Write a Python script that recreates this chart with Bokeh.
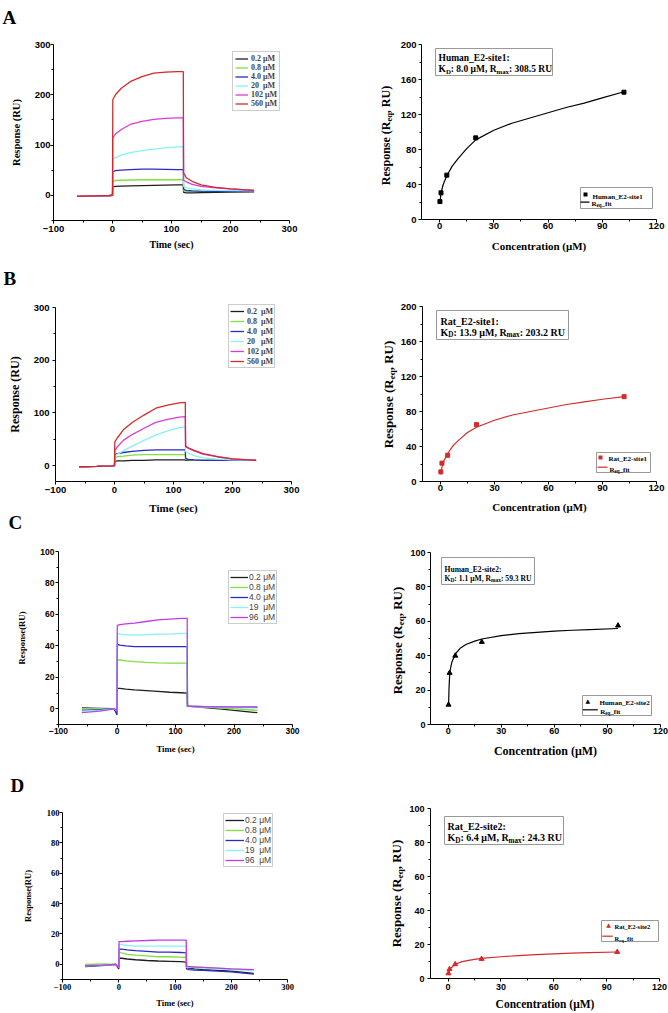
import math
from bokeh.plotting import figure
from bokeh.models import (Range1d, FixedTicker, Label, BoxAnnotation, Legend, LegendItem,
                          LinearAxis)
from bokeh.embed import file_html
from bokeh.resources import INLINE
from bokeh.core.properties import value

# ---------------- data ----------------
TIME = [-60, -30, -5, 0, 0.5, 5, 15, 30, 50, 70, 90, 110, 120, 120.5, 125, 135, 150, 175, 200, 240]

LABELS_A = ["0.2 μM", "0.8 μM", "4.0 μM", "20  μM", "102 μM", "560 μM"]
A_02 = [-2, -1, -0.3, 0, 17, 18, 18.5, 19, 19.5, 20, 20.5, 21, 21, 6, 5, 5, 5.5, 6, 6.5, 7]
A_08 = [-2, -1, -0.3, 0, 28, 29.5, 30, 30.5, 31, 31, 31, 31, 31, 9, 8, 8, 8, 8, 8, 8]
A_40 = [-2, -1, -0.3, 0, 47, 49, 50, 51, 52, 52, 51.5, 51, 51, 12, 10, 9, 8.5, 8, 8, 8]
A_20 = [-2, -1, -0.3, 0, 72, 75, 80, 85, 89, 92, 94.5, 96.5, 97, 18, 15, 13, 11, 10, 9.5, 9]
A_102 = [-2, -1, -0.3, 0, 114, 122, 131, 141, 147, 151, 153, 154, 154, 30, 27, 22, 18, 15, 13, 10]
A_560 = [-2, -1, -0.3, 0, 190, 200, 213, 226, 236, 243, 245, 246, 246, 45, 35, 28, 21, 16, 13, 10]

LABELS_B = ["0.2  μM", "0.8  μM", "4.0  μM", "20   μM", "102 μM", "560 μM"]
B_02 = [-2, -1.5, -0.5, 0, 8, 9, 9, 10, 10, 11, 11, 11, 11, 10, 10, 10, 10, 10, 10, 10]
B_08 = [-2, -1.5, -0.5, 0, 15, 17, 18, 20, 21, 21, 21, 21, 21, 12, 11, 10.5, 10, 10, 10, 10]
B_40 = [-2, -1.5, -0.5, 0, 21, 23, 25, 27, 29, 30, 30, 30, 30, 14, 12, 11, 10, 10, 10, 10]
B_20 = [-2, -1.5, -0.5, 0, 18, 22, 28, 37, 48, 58, 66, 72, 74, 27, 24, 19, 15, 12.5, 11, 10]
B_102 = [-2, -1.5, -0.5, 0, 28, 36, 48, 59, 71, 82, 88, 92, 93, 36, 33, 28, 22, 16.5, 13, 10]
B_560 = [-2, -1.5, -0.5, 0, 45, 53, 68, 82, 96, 109, 115, 119, 120, 37, 34, 29, 23, 17, 13, 10]

LABELS_CD = ["0.2 μM", "0.8 μM", "4.0 μM", "19  μM", "96  μM"]
C_02 = [0.5, 0.3, 0, -1, 13, 13, 12.5, 12, 11.5, 11, 10.5, 10.2, 10, 1.5, 1.5, 1.2, 0.8, 0, -1, -2.5]
C_08 = [0, 0, 0, -1, 31, 31, 30.5, 30, 29.5, 29.2, 29, 29, 29, 1.5, 1.5, 1.3, 1, 0.5, 0, -1]
C_40 = [-1, -0.5, 0, -4, 41, 40.5, 40, 39.5, 39.5, 39.5, 39.5, 39.5, 39.5, 1.5, 1.5, 1.5, 1.4, 1.2, 1, 1]
C_19 = [-1.5, -1, 0, -1, 48, 47.5, 47, 47, 47, 47.5, 47.5, 48, 48, 1.5, 1.5, 1.4, 1.3, 1, 0.8, 0.5]
C_96 = [-2.5, -1.5, 0, -1, 53, 53.5, 54, 54.5, 55.5, 56.5, 57, 57.5, 57.5, 1.5, 1.5, 1.5, 1.4, 1.2, 1, 1]

D_02 = [-1, -0.5, 0, -3, 4, 4, 3.5, 3, 2.5, 2.2, 2, 1.8, 1.5, -2, -2.5, -3, -3.5, -4, -4.5, -6]
D_08 = [0, 0.2, 0, -2, 8, 7.5, 6.5, 6, 5.5, 5, 5, 4.8, 4.5, -1.5, -1.5, -1.5, -2, -2.5, -3, -4]
D_40 = [-1.5, -0.8, 0, -2, 10, 10, 9.5, 9, 8.5, 8, 8, 7.8, 7.5, -3, -3.5, -3.8, -4, -4.5, -5, -6.5]
D_19 = [-1, -0.5, 0, -2, 13, 13, 12.5, 12, 12, 12, 12, 12, 12, -2, -2, -2.2, -2.5, -3, -3.5, -4]
D_96 = [-1, -0.5, 0, -2, 15, 15, 15.2, 15.5, 15.7, 16, 16, 16, 16, -1.5, -1.5, -1.8, -2, -2.5, -3, -3.5]

CONC_1 = [0.2, 0.8, 4.0, 20, 102]
REQ_HUMAN_1 = [20.5, 30.5, 50.7, 93.3, 145.5]
REQ_RAT_1 = [11, 21, 30, 65, 97]
FIT_X1 = [0.2, 0.5, 1, 2, 4, 7, 10, 15, 20, 30, 40, 50, 60, 70, 80, 90, 102]
FIT_HUMAN_1 = [18, 25, 32, 40, 50, 61, 69, 81, 91, 102, 110, 116, 122, 128, 133, 139, 146]
FIT_RAT_1 = [8, 13, 18, 24, 32, 41, 47, 56, 62, 70, 76, 80, 84, 88, 91, 94, 97]

CONC_2 = [0.2, 0.8, 4.0, 19, 96]
REQ_HUMAN_2 = [11.5, 30, 40, 48, 57.5]
REQ_RAT_2 = [3, 5.5, 8.4, 11.5, 15.6]
FIT_X2 = [0.2, 0.5, 0.8, 1, 2, 4, 7, 10, 15, 19, 30, 40, 50, 60, 70, 80, 96]
FIT_HUMAN_2 = [11.5, 22, 28, 31, 36, 41, 44.5, 46.5, 48.5, 49.7, 51.7, 52.8, 53.6, 54.3, 54.8, 55.2, 55.8]
FIT_RAT_2 = [2.5, 3.8, 4.8, 5.3, 6.5, 8.3, 9.6, 10.4, 11.2, 11.8, 12.8, 13.5, 14, 14.5, 14.9, 15.2, 15.6]

X_TICKS_T = [-100, 0, 100, 200, 300]
X_MINOR_T = [-50, 50, 150, 250]
X_TICKS_C = [0, 30, 60, 90, 120]
X_MINOR_C = [15, 45, 75, 105]
Y300 = [0, 100, 200, 300]
Y100 = [0, 20, 40, 60, 80, 100]
Y100m = [-10, 10, 30, 50, 70, 90]
Y200 = [0, 40, 80, 120, 160, 200]
Y200m = [20, 60, 100, 140, 180]

# ---------------- style ----------------
SERIF = "Liberation Serif"
SANS = "Liberation Sans"
BLACK = "#1e1e1e"
GREEN = "#7fe040"
BLUE = "#2a2ac4"
CYAN = "#86f2f2"
MAGENTA = "#d83cd8"
PURPLE = "#c03ce8"
RED = "#d42a2a"
W, H = 668, 1012

TB = {' ': 250, '!': 333, '(': 333, ')': 333, ',': 250, '-': 333, '.': 250, ':': 333, '_': 500,
      'A': 722, 'B': 667, 'C': 722, 'D': 722, 'E': 667, 'F': 611, 'G': 778, 'H': 778, 'I': 389,
      'J': 500, 'K': 778, 'L': 667, 'M': 944, 'N': 722, 'O': 778, 'P': 611, 'Q': 778, 'R': 722,
      'S': 556, 'T': 667, 'U': 722, 'V': 722, 'W': 1000, 'X': 722, 'Y': 722, 'Z': 667,
      'a': 500, 'b': 556, 'c': 444, 'd': 556, 'e': 444, 'f': 333, 'g': 500, 'h': 556, 'i': 278,
      'j': 333, 'k': 556, 'l': 278, 'm': 833, 'n': 556, 'o': 500, 'p': 556, 'q': 556, 'r': 444,
      's': 389, 't': 333, 'u': 556, 'v': 500, 'w': 722, 'x': 500, 'y': 500, 'z': 444, 'μ': 556}

p = figure(width=W, height=H, x_range=Range1d(0, W), y_range=Range1d(0, H),
           x_axis_type=None, y_axis_type=None, output_backend="svg", toolbar_location=None,
           title=None, min_border_left=0, min_border_right=0, min_border_top=0,
           min_border_bottom=0)
p.outline_line_color = None
p.background_fill_color = "white"
p.border_fill_color = "white"


def text_width(s, size):
    return sum(TB.get(c, 500) for c in s) / 1000.0 * size


def label(x, y, txt, size, font=SERIF, style="bold", color="black", angle=0.0,
          align="left", baseline="alphabetic"):
    # x, y in picture pixels from the top-left corner
    p.add_layout(Label(x=x, y=H - y, x_units="screen", y_units="screen", text=txt, angle=angle,
                       text_font=font, text_font_style=style, text_font_size=f"{size}px",
                       text_color=color, text_align=align, text_baseline=baseline))


def rich(x, y, runs, angle=0.0, color="black"):
    off = 0.0
    for txt, size, shift in runs:
        if angle:
            label(x + shift, y - off, txt, size, color=color, angle=angle)
        else:
            label(x + off, y + shift, txt, size, color=color)
        off += text_width(txt, size)
    return off


def box(x0, x1, y0, y1, fill="white", line="#999999"):
    p.add_layout(BoxAnnotation(left=x0, right=x1, bottom=H - y1, top=H - y0,
                               left_units="screen", right_units="screen",
                               bottom_units="screen", top_units="screen",
                               fill_color=fill, fill_alpha=1, line_color=line,
                               line_alpha=1, line_width=1))


def add_ranges(name, rect, xr, yr):
    L, T, R, B = rect
    kx = (R - L) / (xr[1] - xr[0])
    x0 = xr[0] - L / kx
    p.extra_x_ranges["x" + name] = Range1d(x0, x0 + W / kx)
    ky = (B - T) / (yr[1] - yr[0])
    y0 = yr[0] - (H - B) / ky
    p.extra_y_ranges["y" + name] = Range1d(y0, y0 + H / ky)
    return "x" + name, "y" + name


def make_axis(nx, ny, side, loc, bounds, ticks, minor, tfont, tsize, tstand,
              lab=None, lsize=10, lstand=5):
    ax = LinearAxis(x_range_name=nx, y_range_name=ny, fixed_location=loc, bounds=bounds)
    ax.ticker = FixedTicker(ticks=ticks, minor_ticks=minor)
    ax.axis_line_color = "black"
    ax.axis_line_width = 1
    ax.major_tick_out = 3
    ax.major_tick_in = 0
    ax.minor_tick_out = 2
    ax.minor_tick_in = 0
    ax.major_tick_line_color = "black"
    ax.minor_tick_line_color = "black"
    ax.major_label_text_font = tfont
    ax.major_label_text_font_size = f"{tsize}px"
    ax.major_label_text_font_style = "bold"
    ax.major_label_text_color = "black"
    ax.major_label_standoff = tstand
    if lab:
        ax.axis_label = lab
        ax.axis_label_text_font = SERIF
        ax.axis_label_text_font_size = f"{lsize}px"
        ax.axis_label_text_font_style = "bold"
        ax.axis_label_text_color = "black"
        ax.axis_label_standoff = lstand
    p.add_layout(ax, side)


def left_panel(name, rect, yr, yticks, yminor, series, tfont, tsize, xs1, ys1,
               xls, xls2, ylabel, yls, yls2, leg, letter):
    xr = (-100, 300)
    nx, ny = add_ranges(name, rect, xr, yr)
    items = []
    for vals, col, lab in series:
        r = p.line(TIME, vals, line_color=col, line_width=1.3, x_range_name=nx, y_range_name=ny)
        items.append(LegendItem(label=value(lab), renderers=[r]))
    make_axis(nx, ny, "below", yr[0], xr, X_TICKS_T, X_MINOR_T, tfont, tsize, xs1,
              "Time (sec)", xls, xls2)
    make_axis(nx, ny, "left", xr[0], yr, yticks, yminor, tfont, tsize, ys1, ylabel, yls, yls2)
    lx, lby, lfont, lstyle, lsize, gw, rh, lst, pad = leg
    p.add_layout(Legend(items=items, location=(lx, H - lby), orientation="vertical",
                        label_text_font=lfont, label_text_font_style=lstyle,
                        label_text_font_size=f"{lsize}px", glyph_width=gw, glyph_height=rh,
                        label_height=rh, label_standoff=lst, spacing=0, padding=pad, margin=0,
                        border_line_color="#999999", border_line_width=1,
                        background_fill_color="white", background_fill_alpha=1))
    txt, lx0, ly0, lsz = letter
    label(lx0, ly0, txt, lsz)


def right_panel(name, rect, yr, yticks, yminor, conc, req, fx, fy, col, marker, msize,
                tsize, xs1, ys1, xls, xls2, ylab, pbox, leg):
    xr = (-10, 120)
    nx, ny = add_ranges(name, rect, xr, yr)
    p.line(fx, fy, line_color=col, line_width=1.2, x_range_name=nx, y_range_name=ny)
    p.scatter(conc, req, marker=marker, size=msize, fill_color=col, line_color=col,
              x_range_name=nx, y_range_name=ny)
    make_axis(nx, ny, "below", yr[0], xr, X_TICKS_C, X_MINOR_C, SANS, tsize, xs1,
              "Concentration (μM)", xls, xls2)
    make_axis(nx, ny, "left", xr[0], yr, yticks, yminor, SANS, tsize, ys1)
    # rotated y label with subscript
    F, cx, cy = ylab
    runs = [("Response (R", F, 0), ("eq", 0.7 * F, 0.28 * F), (", RU)", F, 0)]
    L = sum(text_width(t, s) for t, s, _ in runs)
    rich(cx + 0.24 * F, cy + L / 2.0, runs, angle=math.pi / 2)
    # parameter box
    (bl, br, bt, bb, tx, b1, b2, bf, title, kd, rmax) = pbox
    box(bl, br, bt, bb)
    rich(tx, b1, [(title, bf, 0)])
    rich(tx, b2, [("K", bf, 0), ("D", 0.72 * bf, 0.3 * bf), (": " + kd + ", R", bf, 0),
                  ("max", 0.72 * bf, 0.3 * bf), (": " + rmax, bf, 0)])
    # legend
    (gl, gr, gt, gb, mx, my, t1x, t1y, l0, l1, ly2, t2x, t2y, lf, lname) = leg
    box(gl, gr, gt, gb)
    if marker == "square":
        box(mx - 2, mx + 2, my - 2, my + 2, fill=col, line=None)
    else:
        label(mx, my, "▲", 6, font="DejaVu Sans", style="normal", color=col,
              align="center", baseline="middle")
    rich(t1x, t1y, [(lname, lf, 0)])
    box(l0, l1, ly2 - 0.6, ly2 + 0.6, fill=col, line=None)
    rich(t2x, t2y, [("R", lf, 0), ("eq", 0.72 * lf, 0.3 * lf), ("_fit", lf, 0)])


left_panel("LA", (53, 44, 289, 220), (-50, 300), Y300, [-50, 50, 150, 250],
           [(A_02, BLACK, LABELS_A[0]), (A_08, GREEN, LABELS_A[1]), (A_40, BLUE, LABELS_A[2]),
            (A_20, CYAN, LABELS_A[3]), (A_102, MAGENTA, LABELS_A[4]), (A_560, RED, LABELS_A[5])],
           SANS, 9.5, 2, 0, 10, 4, "Response (RU)", 10.5, 10,
           (232, 111, SERIF, "bold", 8, 13, 9, 3, 2), ("A", 2, 17, 19))

left_panel("LB", (55, 307, 291, 481), (-30, 300), Y300, [50, 150, 250],
           [(B_02, BLACK, LABELS_B[0]), (B_08, GREEN, LABELS_B[1]), (B_40, BLUE, LABELS_B[2]),
            (B_20, CYAN, LABELS_B[3]), (B_102, MAGENTA, LABELS_B[4]), (B_560, RED, LABELS_B[5])],
           SANS, 9.5, 2, 3, 11, 6, "Response (RU)", 12, 9,
           (228, 368, SERIF, "bold", 8, 14, 10, 3, 1), ("B", 3, 278, 19))

left_panel("LC", (58, 551, 292, 724), (-10, 100), Y100, Y100m,
           [(C_02, BLACK, LABELS_CD[0]), (C_08, GREEN, LABELS_CD[1]), (C_40, BLUE, LABELS_CD[2]),
            (C_19, CYAN, LABELS_CD[3]), (C_96, PURPLE, LABELS_CD[4])],
           SANS, 8.5, 0, 1, 8.7, 7, "Response(RU)", 8.7, 10,
           (228, 624, SANS, "normal", 8.5, 18, 10, 1, 1), ("C", 8, 522, 19))

left_panel("LD", (62, 812, 287, 979), (-10, 100), Y100, Y100m,
           [(D_02, BLACK, LABELS_CD[0]), (D_08, GREEN, LABELS_CD[1]), (D_40, BLUE, LABELS_CD[2]),
            (D_19, CYAN, LABELS_CD[3]), (D_96, PURPLE, LABELS_CD[4])],
           SERIF, 8.5, 1, 0, 8.5, 5, "Response(RU)", 8.5, 11,
           (223, 867, SANS, "normal", 8.5, 19, 10, 1, 1), ("D", 10, 785, 19))

right_panel("RA", (421, 44, 656, 219), (0, 200), Y200, Y200m, CONC_1, REQ_HUMAN_1,
            FIT_X1, FIT_HUMAN_1, "black", "square", 4, 9.5, 0, 2, 11, 8, (12, 383, 135),
            (435, 552, 48, 75, 438, 57, 68, 9.5, "Human_E2-site1:", "8.0 μM", "308.5 RU"),
            (580, 652, 187, 208, 585, 194, 592, 196, 580, 589, 201.7, 591, 203.3, 7,
             "Human_E2-site1"))

right_panel("RB", (422, 306, 656, 481), (0, 200), Y200, Y200m, CONC_1, REQ_RAT_1,
            FIT_X1, FIT_RAT_1, RED, "square", 4, 9.5, 0, 3, 11, 7, (13, 385, 394),
            (436, 568, 310, 339, 440, 321, 331.5, 10, "Rat_E2-site1:", "13.9 μM", "203.2 RU"),
            (596, 650, 452, 472, 600, 457, 608, 458.5, 597, 607, 466.7, 609, 469, 7,
             "Rat_E2-site1"))

right_panel("RC", (430, 552, 660, 724), (0, 100), Y100, [10, 30, 50, 70, 90], CONC_2,
            REQ_HUMAN_2, FIT_X2, FIT_HUMAN_2, "black", "triangle", 5, 9, 0, 2, 12, 7,
            (13, 394, 640),
            (441, 534, 557, 584, 444, 568.7, 577.7, 7.6, "Human_E2-site2:", "1.1 μM", "59.3 RU"),
            (582, 651, 695, 715, 587.3, 700, 599, 702.3, 582.3, 597.3, 709.3, 599.7, 711, 7,
             "Human_E2-site2"))

right_panel("RD", (430, 808, 659, 978), (0, 100), Y100, [10, 30, 50, 70, 90], CONC_2,
            REQ_RAT_2, FIT_X2, FIT_RAT_2, RED, "triangle", 5, 9, 2, 3, 11.5, 5,
            (13, 393, 893),
            (444, 563, 816, 844, 447, 826, 837, 10, "Rat_E2-site2:", "6.4 μM", "24.3 RU"),
            (601, 658, 920, 941, 608, 924.3, 614, 926, 601.7, 612.3, 935.7, 614, 937.7, 6.5,
             "Rat_E2-site2"))

open("out.html", "w").write(file_html(p, INLINE))
